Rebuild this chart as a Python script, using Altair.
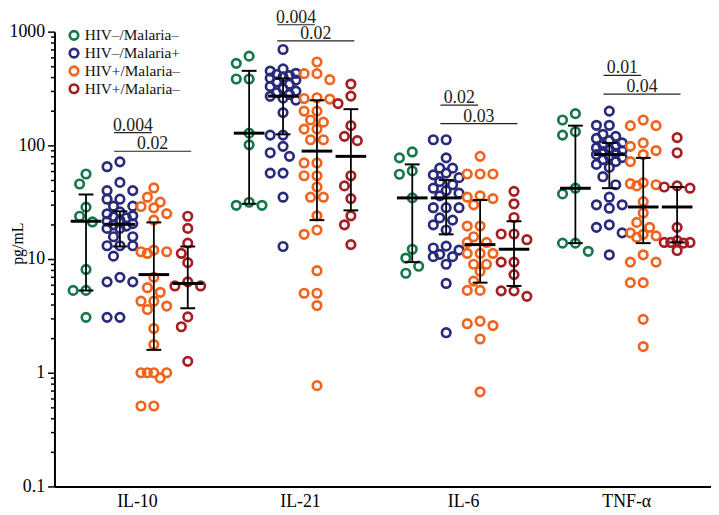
import altair as alt
import pandas as pd
import numpy as np

cytokines = ["IL-10", "IL-21", "IL-6", "TNF-α"]
groups = ["HIV–/Malaria–", "HIV–/Malaria+", "HIV+/Malaria–", "HIV+/Malaria– "]
colors = ["#16784a", "#2a2a7d", "#ef641e", "#a51e23"]

# ---- individual values (pg/mL) ----
il10_g = [56, 45.7, 28.6, 23.8, 21.2, 8.1, 5.3, 5.3, 3.07]
il10_b = [71.6, 64.9, 47.2, 40, 40, 33.6, 33.6, 29.2, 29.2, 26, 25, 24, 23.5, 23, 22, 21.5,
          20.5, 20, 19.5, 18.6, 18.6, 15.7, 15.7, 13.1, 13.1, 13.1, 10.6, 6.9, 6.3, 6.3, 3.07, 3.07]
il10_o = [42.2, 35, 31.7, 29, 28.2, 25.1, 22, 12, 11.6, 11.6, 11.2, 6.9, 5.6, 5.1, 4.26, 4.26,
          3.86, 3.6, 2.45, 1.77, 1.0, 1.0, 1.0, 1.0, 0.9, 0.51, 0.51]
il10_r = [23.8, 18.6, 13.8, 11.2, 9.3, 6.3, 5.8, 5.8, 3.1, 2.54, 1.26]

il21_g = [609, 526, 383, 383, 128, 101, 31.6, 29.7, 29.7]
il21_b = [696, 470, 450, 430, 420, 410, 400, 390, 375, 360, 345, 330, 315, 300, 290, 280, 270,
          260, 250, 194, 123, 123, 98, 86, 80, 57, 57, 35, 12.9]
il21_o = [541, 427, 427, 378, 262, 258, 255, 200, 200, 167, 160, 139, 139, 112, 112, 70, 70,
          54, 54, 43, 35, 35, 24, 18, 16.5, 7.9, 5.0, 5.0, 3.9, 0.77]
il21_r = [346, 271, 233, 149, 120, 110, 54, 44, 34, 24, 20, 13.4]

il6_g = [87.5, 77.6, 59.6, 55.7, 34.5, 12.2, 10.2, 8.65, 7.5]
il6_b = [112, 112, 77.6, 63, 63, 57, 55, 52, 48, 45, 42, 40, 38, 36, 28.3, 28.3, 28.3, 23, 22,
         20, 18, 13, 12.5, 12, 11, 10.5, 10.5, 9, 6.1, 2.25]
il6_o = [80, 56, 56, 56, 36, 35, 34, 30, 19.5, 19.5, 15.7, 14, 14, 11.2, 11.2, 11.2, 9, 9, 7.8,
         6.4, 5.3, 5.3, 2.84, 2.7, 2.6, 1.98, 0.68]
il6_r = [39.4, 30.6, 23.2, 16.6, 16.6, 14.8, 9.4, 9.4, 7.3, 5.25, 5.25, 4.7]

tnf_g = [190, 167, 132, 123, 42, 37.4, 13.8, 13.8, 11.7]
tnf_b = [200, 150, 150, 125, 120, 115, 110, 105, 100, 98, 95, 92, 90, 88, 85, 83, 80, 78, 75,
         72, 68, 64, 53, 45, 35, 30, 30, 28, 20, 19, 17, 10.9]
tnf_o = [167, 149, 149, 105, 98, 90, 83, 72, 47, 46, 45, 44, 32, 25.4, 21, 19, 17, 16.5, 16,
         15.5, 10.9, 9.4, 9.4, 6.2, 6.2, 2.95, 1.7]
tnf_r = [117, 86, 44, 43, 42, 19, 14.5, 14, 14, 14, 13.8, 11.9]

values = [[il10_g, il10_b, il10_o, il10_r],
          [il21_g, il21_b, il21_o, il21_r],
          [il6_g, il6_b, il6_o, il6_r],
          [tnf_g, tnf_b, tnf_o, tnf_r]]

# ---- median and interquartile range ----
medians = [[21.5, 20.2, 7.3, 6.1], [128, 271, 89, 80], [34.5, 34.5, 13.4, 12.2], [42, 83, 28.7, 28.7]]
q1s = [[5.3, 12.9, 1.59, 3.7], [30.6, 125, 22, 26.8], [9.4, 16.5, 6.2, 5.8], [13.8, 42, 13.8, 14]]
q3s = [[36.9, 26.3, 21, 12.9], [452, 388, 249, 208], [68, 49.5, 33, 21.5], [149, 105, 77.6, 43]]

# ---- p-values of the comparisons ----
p_short = ["0.004", "0.004", "0.02", "0.01"]
p_long = ["0.02", "0.02", "0.03", "0.04"]
p_short_y = [129.6, 1150, 226, 412]
p_long_y = [88.7, 828, 155, 282]

# ---- layout ----
W, H = 664, 460
STEP = 4.81          # distance between cytokine groups (in slot units)
PX_UNIT = 34.3       # pixels per slot unit
PX_DEC = H / 4.0     # pixels per decade
XDOM = [-0.93, -0.93 + W / PX_UNIT]


def swarm(vals, d=11.0):
    order = np.argsort(-np.array(vals, dtype=float), kind="stable")
    placed = []
    offs = [0.0] * len(vals)
    cands = [0.0, -6.5, 6.5, -13.0, 13.0]
    for i in order:
        y = np.log10(vals[i]) * PX_DEC
        best, bestd = 0.0, -1.0
        for c in cands:
            md = min([np.hypot(c - px, y - py) for px, py in placed], default=1e9)
            if md >= d:
                best = c
                break
            if md > bestd:
                bestd, best = md, c
        offs[i] = best
        placed.append((best, y))
    return offs


rows, summ, ann = [], [], []
for ci, cy in enumerate(cytokines):
    for gi, g in enumerate(groups):
        vals = values[ci][gi]
        offs = swarm(vals)
        xc = ci * STEP + gi
        for v, o in zip(vals, offs):
            rows.append({"cytokine": cy, "group": g, "value": v, "xpos": xc + o / PX_UNIT})
        summ.append({"cytokine": cy, "group": g, "xc": xc, "med": medians[ci][gi],
                     "q1": q1s[ci][gi], "q3": q3s[ci][gi]})
    xs = ci * STEP + 1 - 0.17
    xe1 = ci * STEP + 2 - 0.06
    xe2 = ci * STEP + 3 + 0.1
    ann.append({"x1": xs, "x2": xe1, "y": p_short_y[ci], "xm": (xs + xe1) / 2, "label": p_short[ci]})
    ann.append({"x1": xs, "x2": xe2, "y": p_long_y[ci], "xm": (xs + xe2) / 2, "label": p_long[ci]})

pts = pd.DataFrame(rows)
sdf = pd.DataFrame(summ)
adf = pd.DataFrame(ann)

FONT = "Liberation Serif"
is_pow = "abs(log(datum.value)/LN10 - round(log(datum.value)/LN10)) < 1e-6"
yvals = sorted({round(k * 10 ** e, 6) for e in range(-1, 3) for k in range(1, 10)} | {1000})

xscale = alt.Scale(domain=XDOM, nice=False, zero=False)
xaxis = alt.Axis(values=[ci * STEP + 1.5 for ci in range(4)],
                 labelExpr="['IL-10','IL-21','IL-6','TNF-α'][round((datum.value-1.5)/%s)]" % STEP,
                 title=None, ticks=False, tickSize=0, grid=False, labelFont=FONT, labelFontSize=18,
                 labelColor="black", labelPadding=6, domainColor="black", domainWidth=2)
yscale = alt.Scale(type="log", domain=[0.1, 1000], nice=False)
yaxis = alt.Axis(values=yvals, grid=False, title="pg/mL",
                 labelExpr="(%s) ? (datum.value < 1 ? '0.1' : format(datum.value, 'd')) : ''" % is_pow,
                 labelOverlap=False, labelFont=FONT, labelFontSize=18, labelColor="black",
                 labelPadding=3,
                 tickSize={"condition": {"test": is_pow, "value": 7}, "value": 4},
                 tickColor="black", tickWidth=1.5, domainColor="black", domainWidth=2,
                 titleFont=FONT, titleFontSize=16, titleFontWeight="normal", titleColor="black",
                 titleX=-37, titleY=214, titleAlign="center", titleBaseline="middle", titleAngle=-90)


def X(f):
    return alt.X(f, type="quantitative", scale=xscale, axis=xaxis)


def Y(f):
    return alt.Y(f, type="quantitative", scale=yscale, axis=yaxis)


points = alt.Chart(pts).mark_point(shape="circle", filled=False, size=74, strokeWidth=2.7, opacity=1).encode(
    x=X("xpos"), y=Y("value"),
    color=alt.Color("group:N", scale=alt.Scale(domain=groups, range=colors),
                    legend=alt.Legend(title=None, orient="none", legendX=12, legendY=-4,
                                      labelFont=FONT, labelFontSize=15.5, labelColor="#111",
                                      symbolType="circle", symbolSize=74, symbolStrokeWidth=2.7,
                                      symbolFillColor="white", rowPadding=-2, padding=0,
                                      labelOffset=3))
)

iqr = alt.Chart(sdf).mark_rule(color="black", strokeWidth=1.8, opacity=1).encode(x=X("xc"), y=Y("q1"), y2="q3")
cap_lo = alt.Chart(sdf).mark_tick(orient="horizontal", color="black", size=15, thickness=2, opacity=1).encode(x=X("xc"), y=Y("q1"))
cap_hi = alt.Chart(sdf).mark_tick(orient="horizontal", color="black", size=15, thickness=2, opacity=1).encode(x=X("xc"), y=Y("q3"))
med = alt.Chart(sdf).mark_tick(orient="horizontal", color="black", size=31, thickness=3, opacity=1).encode(x=X("xc"), y=Y("med"))

alines = alt.Chart(adf).mark_rule(color="#222", strokeWidth=1.2).encode(x=X("x1"), x2="x2", y=Y("y"))
atext = alt.Chart(adf).mark_text(font=FONT, fontSize=18, color="#222", baseline="alphabetic",
                                 align="center", dy=-2).encode(x=X("xm"), y=Y("y"), text="label:N")

chart = alt.layer(points, iqr, cap_lo, cap_hi, med, alines, atext).properties(
    width=W, height=H,
    autosize=alt.AutoSizeParams(type="none"),
    padding={"left": 47, "top": 21, "right": 0, "bottom": 30},
    background="white",
).configure_view(stroke=None)

chart.save("out.html", embed_options={"renderer": "svg", "actions": False})
